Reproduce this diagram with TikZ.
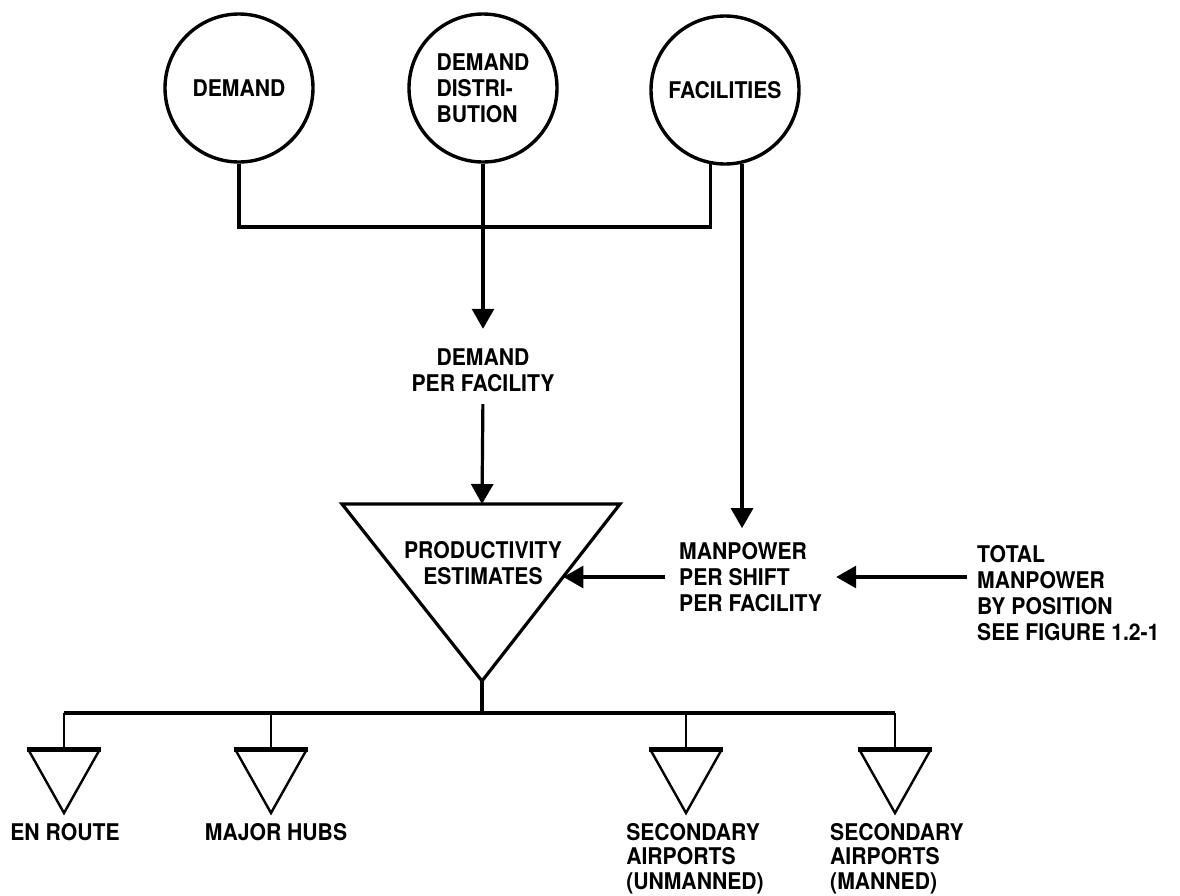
\documentclass[tikz,border=0pt]{standalone}
\usepackage{fontspec}
\setmainfont{TeX Gyre Heros}[FakeStretch=0.92]
\usetikzlibrary{arrows.meta,calc}
\begin{document}
\begin{tikzpicture}[x=1pt,y=-1pt,
  every node/.style={font=\bfseries\fontsize{23}{26}\selectfont, inner sep=0pt},
  ln/.style={line width=3.2pt},
  arr/.style={ln, -{Triangle[length=20pt,width=22pt]}},
  src/.style={circle, draw, line width=3.4pt, minimum size=148pt, align=left},
  tri/.style={line width=3.2pt, line join=miter},
  stri/.style={line width=2.4pt},
  stop/.style={line width=5pt},
  lbl/.style={align=left, font=\bfseries\fontsize{23}{24.5}\selectfont},
]
\useasboundingbox (0,0) rectangle (1180,895);

% input sources
\node[src] (dem) at (239,88) {DEMAND};
\node[src] (dd)  at (483,88) {DEMAND\\DISTRI-\\BUTION};
\node[src] (fac) at (725,90) {FACILITIES};

% demand and facilities merge into one line
\coordinate (jn) at (483,227);
\draw[ln] (dem.south) -- (dem.south |- jn) -- (fac.-101 |- jn) -- (fac.-101);

% demand per facility
\node[align=center] (dpf) at (483,370.5) {DEMAND\\PER FACILITY};
\draw[arr, shorten >=20pt] (dd.south) -- (dpf.north);

% productivity estimates (inverted triangle)
\coordinate (pl) at (342,504);
\coordinate (pr) at (620,504);
\coordinate (pa) at (482,681);
\coordinate (ptop) at (482,504);
\draw[tri] (pl) -- (pr) -- (pa) -- cycle;
\node[align=center] (pe) at (483,563) {PRODUCTIVITY\\ESTIMATES};
\coordinate (pin) at ($(pr)!0.41!(pa)$);
\draw[arr, shorten <=12pt] (dpf.south) -- (ptop);

% manpower per shift
\node[align=left, anchor=west, inner xsep=14pt] (mp) at (665,577) {MANPOWER\\PER SHIFT\\PER FACILITY};
\draw[arr, shorten >=14pt] (fac.-77) -- (fac.-77 |- mp.north);
\draw[arr] (mp.west) -- (mp.west -| pin);

% total manpower
\node[align=left, anchor=west, inner xsep=10pt] (tm) at (967,593) {TOTAL\\MANPOWER\\BY POSITION\\SEE FIGURE 1.2-1};
\draw[arr] (tm.west |- mp.east) -- (mp.east);

% distribution bus to facility types
\coordinate (bus) at (482,713);
\draw[ln] (pa) -- (bus);
\foreach \n/\x in {er/64, mh/271, su/686, sm/895} {
  \coordinate (\n) at (\x,749);
  \draw[stri] (\x-36,749) -- (\x,813) -- (\x+36,749);
  \draw[stop] (\x-37,749) -- (\x+37,749);
}
\draw[ln, line width=4pt] (er |- bus) -- (sm |- bus);
\foreach \n in {er,mh,su,sm} \draw[ln, line width=2.6pt] (\n |- bus) -- (\n);

\node[lbl, anchor=north] (ler) at (65,823) {EN ROUTE};
\node[lbl, anchor=north] (lmh) at (276,823) {MAJOR HUBS};
\node[lbl, anchor=north] (lsu) at (695,823) {SECONDARY\\AIRPORTS\\(UNMANNED)};
\node[lbl, anchor=north] (lsm) at (897,823) {SECONDARY\\AIRPORTS\\(MANNED)};
\end{tikzpicture}
\end{document}
